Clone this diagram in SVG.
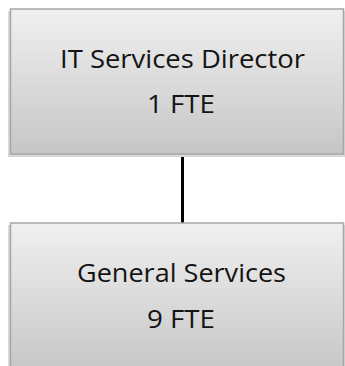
<svg xmlns="http://www.w3.org/2000/svg" width="345" height="366" viewBox="0 0 345 366">
<defs>
<linearGradient id="g" x1="0" y1="0" x2="0" y2="1">
<stop offset="0" stop-color="#f0f0f0"/>
<stop offset="1" stop-color="#c6c6c6"/>
</linearGradient>
</defs>
<style>
.box{fill:url(#g);stroke:#a6a6a6;stroke-width:1.5}
.shadow{fill:#d8d8d8}
.t{font-family:"Open Sans","Liberation Sans",Arial,sans-serif;font-size:25px;fill:#141414;text-anchor:middle}
.c{stroke:#000;stroke-width:3}
</style>
<rect width="345" height="366" fill="#fff"/>
<g id="connectors">
<line class="c" x1="182.5" y1="154" x2="182.5" y2="223"/>
</g>
<g id="director">
<rect class="shadow" x="8" y="11" width="337" height="146"/>
<rect class="box" x="10.5" y="9" width="333" height="145"/>
<text class="t" x="182.5" y="68" textLength="245" lengthAdjust="spacingAndGlyphs">IT Services Director</text>
<text class="t" x="181" y="113" textLength="68" lengthAdjust="spacingAndGlyphs">1 FTE</text>
</g>
<g id="general">
<rect class="shadow" x="8" y="225" width="337" height="145"/>
<rect class="box" x="10.5" y="223" width="333" height="150"/>
<text class="t" x="181.5" y="282" textLength="209" lengthAdjust="spacingAndGlyphs">General Services</text>
<text class="t" x="181" y="328" textLength="68" lengthAdjust="spacingAndGlyphs">9 FTE</text>
</g>
</svg>
